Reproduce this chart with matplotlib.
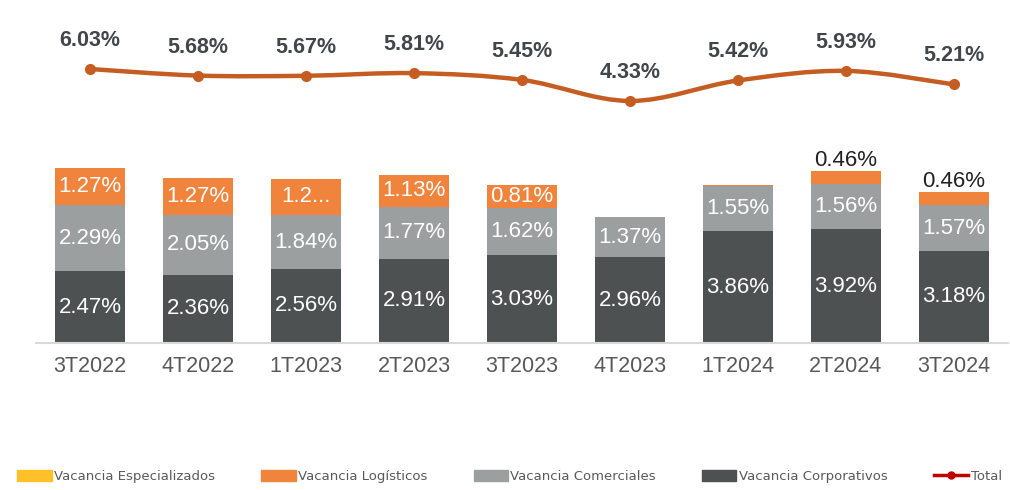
import matplotlib.pyplot as plt
import numpy as np
from matplotlib.path import Path
from matplotlib.patches import PathPatch
from matplotlib.lines import Line2D
from matplotlib.patches import Patch

quarters = ["3T2022", "4T2022", "1T2023", "2T2023", "3T2023", "4T2023", "1T2024", "2T2024", "3T2024"]
corporativos = [2.47, 2.36, 2.56, 2.91, 3.03, 2.96, 3.86, 3.92, 3.18]
comerciales = [2.29, 2.05, 1.84, 1.77, 1.62, 1.37, 1.55, 1.56, 1.57]
logisticos = [1.27, 1.27, 1.27, 1.13, 0.81, 0.0, 0.05, 0.46, 0.46]
especializados = [0, 0, 0, 0, 0, 0, 0, 0, 0]
total = [6.03, 5.68, 5.67, 5.81, 5.45, 4.33, 5.42, 5.93, 5.21]
log_labels = ["1.27%", "1.27%", "1.2...", "1.13%", "0.81%", "", "", "0.46%", "0.46%"]

c_corp = "#4d5152"
c_com = "#9c9fa0"
c_log = "#f0843c"
c_esp = "#ffc02a"
c_line = "#c55d22"

plt.rcParams["font.family"] = ["Liberation Sans", "DejaVu Sans"]

fig = plt.figure(figsize=(10.1, 4.9), dpi=100)
ax = fig.add_axes([36 / 1010, 1 - 343 / 490, 972 / 1010, 343 / 490])
x = np.arange(len(quarters))
w = 0.65

corp = np.array(corporativos)
com = np.array(comerciales)
log = np.array(logisticos)
ax.bar(x, corp, w, color=c_corp)
ax.bar(x, com, w, bottom=corp, color=c_com)
ax.bar(x, log, w, bottom=corp + com, color=c_log)
ax.bar(x, especializados, w, bottom=corp + com + log, color=c_esp)

for i in x:
    ax.text(i, corp[i] / 2, f"{corporativos[i]:.2f}%", ha="center", va="center",
            color="white", fontsize=16)
    ax.text(i, corp[i] + com[i] / 2, f"{comerciales[i]:.2f}%", ha="center", va="center",
            color="white", fontsize=16)
    if log_labels[i]:
        if log[i] > 0.6:
            ax.text(i, corp[i] + com[i] + log[i] / 2, log_labels[i], ha="center", va="center",
                    color="white", fontsize=16)
        else:
            ax.text(i, corp[i] + com[i] + log[i], log_labels[i], ha="center", va="bottom",
                    color="#222222", fontsize=16)

ax.set_xlim(-0.5, len(quarters) - 0.5)
ax.set_ylim(0, 343 / 29.0)
ax.set_xticks(x, quarters)
ax.tick_params(axis="x", length=0, pad=9, labelsize=15.5, labelcolor="#595959")
ax.set_yticks([])
for s in ["top", "left", "right"]:
    ax.spines[s].set_visible(False)
ax.spines["bottom"].set_color("#d9d9d9")
ax.spines["bottom"].set_linewidth(1.5)

# total line on its own scale
ax2 = ax.twinx()
ax2.set_ylim(6.03 - 274 / 18.8, 6.03 + 69 / 18.8)
ax2.set_axis_off()
tot = np.array(total)
# smoothed curve (Catmull-Rom as cubic Bezier)
verts = [(x[0], tot[0])]
codes = [Path.MOVETO]
for i in range(len(x) - 1):
    p0 = np.array([x[max(i - 1, 0)], tot[max(i - 1, 0)]])
    p1 = np.array([x[i], tot[i]])
    p2 = np.array([x[i + 1], tot[i + 1]])
    p3 = np.array([x[min(i + 2, len(x) - 1)], tot[min(i + 2, len(x) - 1)]])
    c1 = p1 + (p2 - p0) / 6
    c2 = p2 - (p3 - p1) / 6
    verts += [tuple(c1), tuple(c2), tuple(p2)]
    codes += [Path.CURVE4] * 3
ax2.add_patch(PathPatch(Path(verts, codes), fill=False, edgecolor=c_line, lw=3.2,
                        capstyle="round"))
ax2.plot(x, tot, "o", color=c_line, ms=7)
for i in x:
    ax2.annotate(f"{total[i]:.2f}%", (i, tot[i]), xytext=(0, 13), textcoords="offset points",
                 ha="center", va="bottom", fontsize=15.5, fontweight="bold", color="#40464a")

handles = [Patch(color=c_esp), Patch(color=c_log), Patch(color=c_com), Patch(color=c_corp),
           Line2D([], [], color="#c00000", lw=2.5, marker="o", ms=5)]
names = ["Vacancia Especializados", "Vacancia Logísticos", "Vacancia Comerciales",
         "Vacancia Corporativos", "Total"]
fig.legend(handles, names, loc="center left", bbox_to_anchor=(0.012, 0.028, 0.985, 0.0),
           mode="expand", ncol=5, frameon=False, handlelength=2.6,
           handleheight=0.9, handletextpad=0.2, borderaxespad=0,
           prop={"family": ["Liberation Sans Narrow", "DejaVu Sans Condensed", "DejaVu Sans"],
                 "size": 9.5}, labelcolor="#595959")

fig.savefig("out.png", dpi=100)
